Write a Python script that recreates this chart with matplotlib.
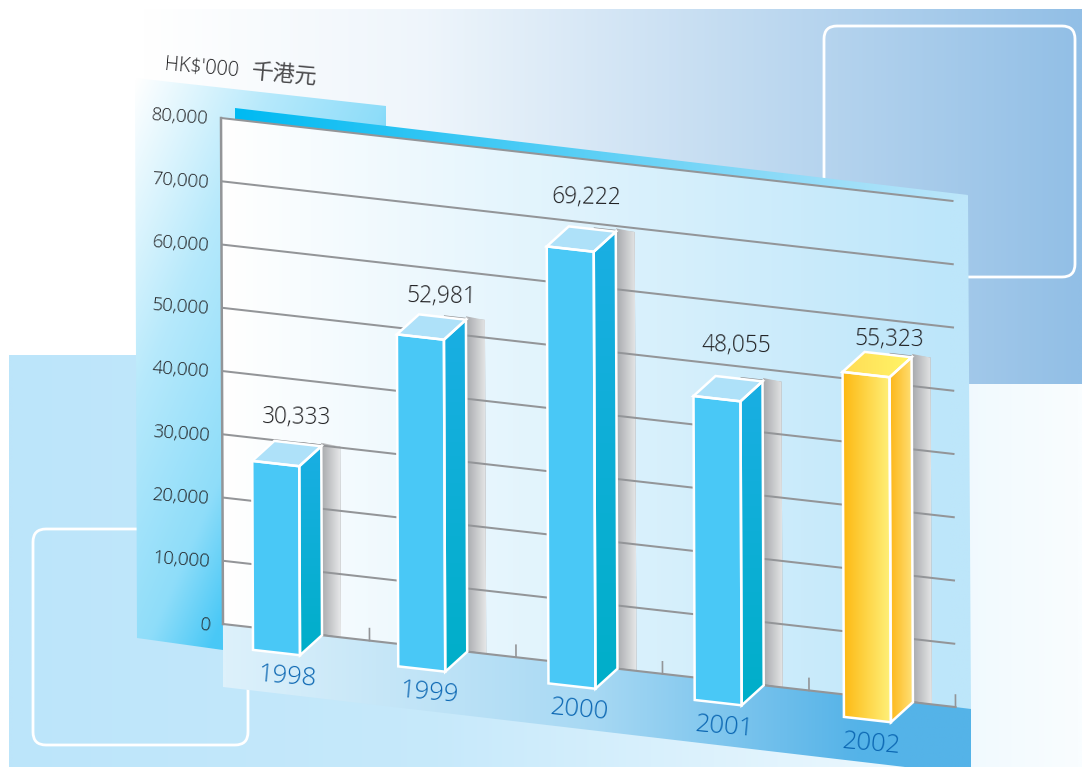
import numpy as np
import matplotlib
matplotlib.use("Agg")
import matplotlib.pyplot as plt
from matplotlib.patches import Polygon, FancyBboxPatch
from matplotlib.transforms import Affine2D
from matplotlib.colors import to_rgb

# ---- data ----
years = ["1998", "1999", "2000", "2001", "2002"]
value_labels = [30333, 52981, 69222, 48055, 55323]
bar_heights = [29880, 52490, 69090, 48060, 54545]   # heights as measured against the gridlines
y_ticks = [0, 10000, 20000, 30000, 40000, 50000, 60000, 70000, 80000]
unit_label = "HK$'000"
unit_label_zh = "千港元"

W, H = 1082, 767
fig = plt.figure(figsize=(W / 100, H / 100), dpi=100)
ax = fig.add_axes([0, 0, 1, 1])
ax.set_xlim(0, W)
ax.set_ylim(H, 0)
ax.axis("off")
FONT = ["Open Sans", "Noto Sans CJK TC", "DejaVu Sans"]
TEXT_W = 300
INK = "#1E1E20"

# chart plane: (category, value) -> figure pixels
CAT_PX = 146.5
VAL_PX = 506 / 80000
SLOPE = 0.1134
plane_px = Affine2D.from_values(CAT_PX, CAT_PX * SLOPE, -2 / 80000, -VAL_PX, 223, 624)
plane = plane_px + ax.transData
DEPTH = (-22, 20)
front_px = plane_px + Affine2D().translate(*DEPTH)


def grad(verts, c0, c1, direction=(1, 0), z=1, stops=None):
    verts = np.asarray(verts, float)
    x0, y0 = verts.min(0)
    x1, y1 = verts.max(0)
    n = 128
    xx, yy = np.meshgrid(np.linspace(0, 1, n), np.linspace(0, 1, n))
    dx, dy = direction
    t = (xx * dx + yy * dy) / (abs(dx) + abs(dy))
    if stops is not None:
        t = np.interp(t, stops[0], stops[1])
    a, b = np.array(to_rgb(c0)), np.array(to_rgb(c1))
    img = a + (b - a) * t[..., None]
    im = ax.imshow(img, extent=(x0, x1, y1, y0), origin="upper", aspect="auto",
                   interpolation="bilinear", zorder=z)
    clip = Polygon(verts, closed=True, transform=ax.transData, fc="none", ec="none")
    im.set_clip_path(clip)
    return im


def rbox(x0, y0, x1, y1, z):
    ax.add_patch(FancyBboxPatch((x0 + 13, y0 + 13), x1 - x0 - 26, y1 - y0 - 26,
                                boxstyle="round,pad=13,rounding_size=13", fc="none",
                                ec="white", lw=2.0, zorder=z))


# backdrop
grad([(9, 355), (W, 355), (W, H), (9, H)], "#BCE5FA", "#F9FDFF", z=1,
     stops=([0, .4, .7, 1], [0, .18, .6, 1]))
grad([(140, 9), (W, 9), (W, 384), (140, 384)], "#FFFFFF", "#92BFE6", z=1.1,
     stops=([0, .3, 1], [0, .15, 1]))
rbox(824, 26, 1075, 277, 1.2)
rbox(33, 529, 248, 745, 1.2)

# panels around the plot
grad([(135, 78), (386, 106), (386, 135), (221, 118), (223, 650), (137, 638)],
     "#FFFFFF", "#49C8F6", direction=(1, 1), z=2,
     stops=([0, .28, .52, .65, 1], [0, .4, .62, 1, 1]))
grad([(235, 108), (968, 195), (953, 205), (235, 125)], "#00BAF2", "#BDE6FA", z=2.1)
grad([(221, 118), (953, 201), (968, 195), (971, 712), (955, 710), (223, 624)],
     "#FFFFFF", "#BDE6FA", z=2.2, stops=([0, .97, 1], [0, 1, 1]))
grad([(223, 624), (955, 707), (971, 709), (971, H), (905, H), (223, 687)],
     "#DDF1FB", "#55B3E8", z=2.3, stops=([0, .5, .85, 1], [0, .4, 1, 1]))

bar_nudge_px = [0, -2, 1, 0, 2]
bar_left = [0.355 + 1.005 * i + n / CAT_PX for i, n in enumerate(bar_nudge_px)]
BAR_W = 47 / CAT_PX
SHADOW = 19

# shadows behind the bars
for left, h in zip(bar_left, bar_heights):
    r = left + BAR_W
    quad = plane_px.transform([(r - 0.15, 0), (r + SHADOW / CAT_PX, 0),
                               (r + SHADOW / CAT_PX, h + 300), (r - 0.15, h + 300)])
    xr = plane_px.transform([(r, h)])[0, 0]
    quad_v = np.array(quad)
    grad(np.vstack([(xr, quad_v[0, 1] + 1), quad_v[1], quad_v[2], (xr, quad_v[3, 1] + 1)]),
         "#A7A9AC", "#E8E9EA", z=3)
    ax.add_patch(Polygon(quad, closed=True, fc="#8F9194", ec="none", zorder=2.9))

# grid
GRID = "#939598"
for v in y_ticks[1:]:
    ax.plot([0, 5], [v, v], transform=plane, color=GRID, lw=1.45, zorder=4,
            solid_capstyle="butt")
ax.plot([0, 5], [0, 0], transform=plane, color=GRID, lw=1.5, zorder=4)
ax.plot([0, 0], [0, 80000], transform=plane, color=GRID, lw=1.8, zorder=4)
for c in range(1, 6):
    ax.plot([c, c], [0, 12 / VAL_PX], transform=plane, color=GRID, lw=1.2, zorder=4)
for v in y_ticks:
    ax.annotate(f"{v:,}", xy=(0, v), xycoords=plane, xytext=(-9, -1),
                textcoords="offset points", ha="right", va="center", rotation=-4,
                rotation_mode="anchor", fontsize=13.5, color=INK, family=FONT,
                fontweight=TEXT_W, zorder=6)
ax.text(165, 55, unit_label, rotation=-5, rotation_mode="anchor", ha="left", va="top",
        fontsize=14.2, color=INK, family=FONT, fontweight=TEXT_W, zorder=6)
ax.text(252, 62, unit_label_zh, rotation=-5, rotation_mode="anchor", ha="left", va="top",
        fontsize=15.8, color="#4A4A4C", family=FONT, fontweight=TEXT_W, zorder=6)

# bars
value_nudge = [(-1, -26), (-1, -20), (-6, -31), (-2, -33), (1, -15)]
year_nudge = [(11, 25), (7, 24), (7, 24), (6, 24), (4, 25)]
for i, (left, h) in enumerate(zip(bar_left, bar_heights)):
    right = left + BAR_W
    fl, fr, ftr, ftl = front_px.transform([(left, 0), (right, 0), (right, h), (left, h)])
    br, btr, btl = plane_px.transform([(right, 0), (right, h), (left, h)])
    gold = i == 4
    front = [fl, fr, ftr, ftl]
    side = [fr, br, btr, ftr]
    top = [ftl, ftr, btr, btl]
    if gold:
        grad(front, "#FDB913", "#FFF27D", z=5)
        grad(side, "#FDB71A", "#FFE27A", z=5)
        grad(top, "#FFDC55", "#FFF568", z=5)
    else:
        ax.add_patch(Polygon(front, closed=True, fc="#49C8F6", ec="none", zorder=5))
        grad(side, "#1AAFE3", "#00AEC9", direction=(0, 1), z=5)
        ax.add_patch(Polygon(top, closed=True, fc="#AEE1F9", ec="none", zorder=5))
    for poly in (front, side, top):
        ax.add_patch(Polygon(poly, closed=True, fc="none", ec="white", lw=1.8,
                             joinstyle="miter", zorder=5.5))
    cx, cy = plane_px.transform([(left + BAR_W / 2, h)])[0]
    vn = value_nudge[i]
    ax.text(cx + vn[0], cy + vn[1], f"{value_labels[i]:,}", ha="center", va="center",
            fontsize=16.3, color=INK, family=FONT, rotation=-1, fontweight=TEXT_W,
            rotation_mode="anchor", zorder=6)
    bx, by = (fl + fr) / 2
    yn = year_nudge[i]
    ax.text(bx + yn[0], by + yn[1], years[i], ha="center", va="center", fontsize=18.5,
            color="#0A66B2", family=FONT, rotation=-5, fontweight=TEXT_W,
            rotation_mode="anchor", zorder=6)

ax.set_xlim(0, W)
ax.set_ylim(H, 0)
fig.savefig("out.png", dpi=100, facecolor="white")
